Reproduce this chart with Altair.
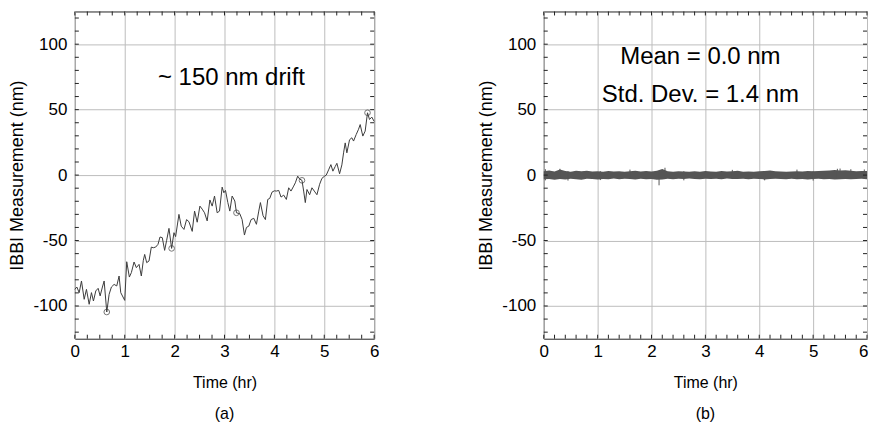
import altair as alt
import pandas as pd

# ---------------- data: panel (a) drift trace ----------------
t_a = [0.0, 0.04, 0.087, 0.133, 0.187, 0.233, 0.287, 0.333, 0.373, 0.42, 0.467, 0.507,
       0.553, 0.587, 0.64, 0.687, 0.733, 0.787, 0.84, 0.887, 0.92, 1.0, 1.04, 1.093,
       1.133, 1.187, 1.233, 1.287, 1.333, 1.373, 1.4, 1.44, 1.487, 1.533, 1.573, 1.62,
       1.667, 1.707, 1.753, 1.8, 1.84, 1.887, 1.94, 1.987, 2.02, 2.087, 2.133, 2.187,
       2.24, 2.287, 2.353, 2.4, 2.453, 2.507, 2.553, 2.6, 2.653, 2.707, 2.753, 2.8,
       2.853, 2.9, 2.953, 2.987, 3.02, 3.067, 3.107, 3.153, 3.207, 3.24, 3.307, 3.353,
       3.4, 3.44, 3.487, 3.533, 3.587, 3.64, 3.687, 3.72, 3.773, 3.82, 3.867, 3.907,
       3.953, 4.0, 4.04, 4.087, 4.133, 4.187, 4.24, 4.287, 4.333, 4.387, 4.42, 4.467,
       4.507, 4.553, 4.587, 4.62, 4.653, 4.707, 4.753, 4.8, 4.853, 4.907, 4.953, 5.0,
       5.04, 5.087, 5.133, 5.173, 5.22, 5.253, 5.307, 5.353, 5.387, 5.42, 5.453, 5.507,
       5.553, 5.587, 5.64, 5.687, 5.72, 5.773, 5.82, 5.867, 5.907, 5.953, 6.0]
v_a = [-87.3, -85.5, -89.8, -80.9, -94.9, -87.3, -98.7, -89.8, -96.2, -88.5, -86.5, -92.3,
       -85.5, -80.9, -104.6, -91.1, -85.5, -83.5, -84.7, -77.1, -89.8, -95.7, -66.2, -77.9,
       -74.5, -66.4, -70.7, -68.2, -77.1, -65.1, -60.6, -66.9, -65.6, -55.0, -55.5, -55.0,
       -52.9, -47.3, -47.8, -57.5, -49.9, -40.7, -56.0, -44.0, -47.0, -30.0, -39.0, -41.5,
       -34.0, -35.6, -43.0, -27.5, -36.0, -23.7, -26.0, -28.8, -35.0, -19.0, -23.7, -16.0,
       -28.8, -27.5, -9.2, -13.5, -11.7, -21.0, -27.5, -16.0, -19.8, -28.8, -29.5, -34.0,
       -45.8, -40.0, -39.0, -34.0, -33.0, -37.6, -27.5, -21.0, -31.0, -34.0, -18.6, -17.8,
       -13.0, -12.0, -12.2, -11.7, -16.8, -15.3, -18.6, -9.7, -12.2, -8.4, -5.9, -0.8,
       -3.0, -4.0, -12.2, -21.0, -11.0, -15.0, -9.7, -12.2, -15.0, -7.0, -2.5, -1.0,
       0.0, 4.0, 8.0, 3.0, 6.6, 9.0, 1.0, 7.8, 17.0, 24.6, 17.0, 27.0,
       28.5, 26.0, 31.0, 35.0, 38.6, 29.8, 33.6, 47.6, 42.5, 44.3, 41.0]

# circled samples in panel (a)
t_mark = [0.64, 1.94, 3.24, 4.553, 5.867]
v_mark = [-104.6, -56.0, -28.8, -4.0, 47.6]

# ---------------- data: panel (b) stabilised trace (noise envelope) ----------------
t_b = [round(i * 0.1, 1) for i in range(61)]
hi_b = [3.0, 3.5, 2.8, 4.2, 3.1, 2.6, 3.3, 2.9, 3.4, 2.7, 3.0, 2.5, 3.2, 2.8, 3.0, 2.6,
        2.9, 3.3, 2.7, 3.1, 2.8, 3.4, 4.6, 2.9, 2.6, 3.0, 2.7, 2.5, 2.9, 2.6, 3.1, 2.8,
        2.6, 3.2, 2.7, 2.9, 3.3, 2.6, 2.8, 2.5, 2.9, 3.2, 3.5, 2.9, 2.7, 2.6, 2.8, 3.0,
        2.7, 3.1, 2.9, 3.2, 3.4, 3.6, 3.9, 3.5, 3.7, 3.3, 3.0, 3.2, 3.1]
lo_b = [-3.2, -2.9, -3.6, -3.0, -3.4, -2.8, -3.1, -3.5, -2.7, -3.0, -3.3, -2.9, -3.1, -2.6,
        -3.2, -2.8, -3.0, -3.4, -2.7, -3.1, -2.9, -3.6, -3.3, -2.8, -3.1, -2.7, -3.0, -2.6,
        -2.9, -3.2, -2.7, -3.0, -2.8, -3.1, -2.6, -2.9, -3.0, -2.7, -3.1, -2.8, -3.0, -3.3,
        -2.9, -2.7, -3.0, -3.2, -2.8, -3.1, -2.9, -3.3, -3.0, -2.8, -3.2, -3.0, -3.4, -3.1,
        -2.9, -3.2, -3.0, -2.8, -3.1]
# single-sample spikes in panel (b)
t_spk = [0.03, 0.3, 0.45, 1.05, 1.6, 2.14, 2.25, 2.6, 3.5, 4.1, 4.7, 5.0, 5.45, 5.5, 5.7, 5.95]
lo_spk = [-4.0, -3.0, -4.2, -3.8, -3.0, -7.8, -3.0, -4.0, -3.0, -4.0, -3.0, -4.2, -3.0, -3.0, -3.0, -3.0]
hi_spk = [4.5, 4.8, 3.0, 3.0, 4.2, 3.0, 5.6, 3.0, 4.0, 3.0, 4.2, 3.0, 4.8, 5.0, 4.5, 4.3]

# axis ticks
x_major = [0, 1, 2, 3, 4, 5, 6]
y_major = [-100, -50, 0, 50, 100]
x_minor_a = [i * 0.25 for i in range(25)]
x_minor_b = [round(i * 0.2, 2) for i in range(31)]
y_minor = [-120 + 10 * i for i in range(25)]

FONT = "Liberation Sans"
H = 328
W_A, W_B = 300, 324
INK = "#3c3c3c"
TICK = 4


def make_panel(width, x_minor, layers_data, label, last_right=False):
    xs = alt.Scale(domain=[0, 6], nice=False, zero=False)
    ys = alt.Scale(domain=[-125, 125], nice=False, zero=False)
    xkw = {}
    if last_right:
        # keep the right-most label inside the page
        xkw["labelAlign"] = alt.ExprRef(expr="datum.value == 6 ? 'right' : 'center'")
        xkw["labelOffset"] = alt.ExprRef(expr="datum.value == 6 ? 1 : 0")
    xa = alt.Axis(values=x_major, labelExpr="'' + datum.value", title="Time (hr)",
                  grid=True, ticks=False, tickSize=0, domain=False, labelPadding=5,
                  labelFlush=False, labelOverlap=False,
                  titlePadding=15, titleFontSize=16, **xkw)
    ya = alt.Axis(values=y_major, labelExpr="'' + datum.value",
                  title="IBBI Measurement (nm)", grid=True, ticks=False, tickSize=0,
                  domain=False, labelPadding=8, labelFlush=False, labelOverlap=False,
                  titlePadding=6, titleFontSize=18)

    def X(f):
        return alt.X(f, type="quantitative", scale=xs, axis=xa)

    def Y(f):
        return alt.Y(f, type="quantitative", scale=ys, axis=ya)

    xt = pd.DataFrame({"t": x_minor})
    yt = pd.DataFrame({"v": y_minor})
    ticks = [
        alt.Chart(xt).mark_rule(color="#222", strokeWidth=1).encode(
            x=X("t"), y=alt.value(H), y2=alt.value(H - TICK)),
        alt.Chart(xt).mark_rule(color="#222", strokeWidth=1).encode(
            x=X("t"), y=alt.value(0), y2=alt.value(TICK)),
        alt.Chart(yt).mark_rule(color="#222", strokeWidth=1).encode(
            y=Y("v"), x=alt.value(0), x2=alt.value(TICK)),
        alt.Chart(yt).mark_rule(color="#222", strokeWidth=1).encode(
            y=Y("v"), x=alt.value(width), x2=alt.value(width - TICK)),
    ]
    layers = layers_data(X, Y) + ticks
    return alt.layer(*layers).properties(
        width=width, height=H,
        title=alt.TitleParams(label, orient="bottom", anchor="middle", frame="group",
                              fontSize=16, font=FONT, fontWeight="normal",
                              color="black", offset=15),
    )


def panel_a(X, Y):
    df = pd.DataFrame({"t": t_a, "v": v_a})
    dm = pd.DataFrame({"t": t_mark, "v": v_mark})
    line = alt.Chart(df).mark_line(color=INK, strokeWidth=1).encode(x=X("t"), y=Y("v"))
    pts = alt.Chart(dm).mark_point(shape="circle", filled=False, color=INK, size=32,
                                   strokeWidth=1).encode(x=X("t"), y=Y("v"))
    txt = alt.Chart(pd.DataFrame({"s": ["~ 150 nm drift"]})).mark_text(
        fontSize=24, font=FONT, color="black", baseline="middle", align="center"
    ).encode(text="s:N", x=alt.value(157), y=alt.value(67))
    return [line, pts, txt]


def panel_b(X, Y):
    df = pd.DataFrame({"t": t_b, "lo": lo_b, "hi": hi_b})
    ds = pd.DataFrame({"t": t_spk, "lo": lo_spk, "hi": hi_spk})
    band = alt.Chart(df).mark_area(color="#555555", opacity=1, interpolate="linear").encode(
        x=X("t"), y=Y("lo"), y2="hi")
    spk = alt.Chart(ds).mark_rule(color="#555555", strokeWidth=1).encode(
        x=X("t"), y=Y("lo"), y2="hi")
    txt = alt.Chart(pd.DataFrame({"s": ["Mean = 0.0 nm", "Std. Dev. = 1.4 nm"],
                                  "py": [46, 84]})).mark_text(
        fontSize=24, font=FONT, color="black", baseline="middle", align="center"
    ).encode(text="s:N", x=alt.value(157), y=alt.Y("py:Q", scale=None))
    return [band, spk, txt]


a = make_panel(W_A, x_minor_a, panel_a, "(a)")
b = make_panel(W_B, x_minor_b, panel_b, "(b)", last_right=True)

chart = alt.hconcat(a, b, spacing=170, bounds="flush").properties(
    padding={"left": 0, "top": 2, "right": 0, "bottom": 0}
).configure_view(
    stroke="#222", strokeWidth=1
).configure_axis(
    labelFont=FONT, titleFont=FONT, labelFontSize=17,
    labelColor="black", titleColor="black", titleFontWeight="normal",
    gridColor="#bdbdbd", gridWidth=1, gridOpacity=1
)

chart.save("out.html", embed_options={"renderer": "svg", "actions": False})
